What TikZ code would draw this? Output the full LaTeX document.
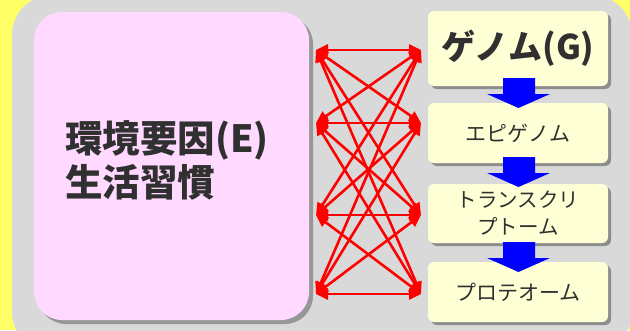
\documentclass[tikz,border=0pt]{standalone}
\usepackage{fontspec}
\newfontfamily\jp{Noto Sans CJK JP}
\usetikzlibrary{arrows.meta,shadows}
\definecolor{bgyellow}{HTML}{FFFF66}
\definecolor{panelgray}{HTML}{D9D9D9}
\definecolor{pinkbox}{HTML}{FFD9FF}
\definecolor{creambox}{HTML}{FFFFD5}
\definecolor{txtgray}{HTML}{303030}
\tikzset{
  creamstep/.style={draw=none, fill=creambox, rounded corners=6pt,
    minimum width=180pt, inner sep=0pt, text=txtgray, align=center,
    drop shadow={shadow xshift=3pt, shadow yshift=-3pt, fill=black, opacity=0.35}},
  redlink/.style={draw=red, line width=2.6pt,
    {Triangle[length=12pt,width=11pt]}-{Triangle[length=12pt,width=11pt]}},
  bluearrow/.style={fill=blue, draw=none}
}
\begin{document}
\begin{tikzpicture}[x=1pt,y=-1pt]
\useasboundingbox (0,0) rectangle (630,330);
\fill[bgyellow] (0,0) rectangle (630,330);
\fill[panelgray, rounded corners=40pt] (12,-5) rectangle (632,352);
% pink box
\node[draw=none, fill=pinkbox, rounded corners=28pt, minimum width=275pt,
  minimum height=308pt, inner sep=0pt,
  drop shadow={shadow xshift=4pt, shadow yshift=-4pt, fill=black, opacity=0.3}]
  (env) at (171.5,166) {};
\node[text=txtgray, align=left, font=\jp\bfseries\fontsize{37.5}{44}\selectfont]
  (envtext) at (167,160) {環境要因(E)\\生活習慣};
% right boxes
\node[creamstep, minimum height=75pt, font=\jp\bfseries\fontsize{34}{40}\selectfont]
  (g) at (518,48.5) {ゲノム(G)};
\node[creamstep, minimum height=60pt, font=\jp\fontsize{21}{27}\selectfont]
  (epi) at (518,133) {エピゲノム};
\node[creamstep, minimum height=59pt, font=\jp\fontsize{20.5}{27}\selectfont]
  (tr) at (518,213.5) {トランスクリ\\プトーム};
\node[creamstep, minimum height=60pt, font=\jp\fontsize{21}{27}\selectfont]
  (pr) at (518,292) {プロテオーム};
% connector ends
\coordinate (l1) at (316,50);
\coordinate (l2) at (316,123);
\coordinate (l3) at (316,215);
\coordinate (l4) at (316,294);
\coordinate (r1) at (421,50);
\coordinate (r2) at (421,123);
\coordinate (r3) at (421,215);
\coordinate (r4) at (421,294);
\foreach \i in {1,...,4}{
  \foreach \j in {1,...,4}{
    \draw[redlink] (l\i) -- (r\j);
  }
}
% blue arrows
\foreach \top/\base/\tip in {78/94/108, 157/173/187, 242/258/272}{
  \fill[bluearrow] (503,\top) -- (535,\top) -- (535,\base) -- (550,\base)
    -- (518.5,\tip) -- (487,\base) -- (503,\base) -- cycle;
}
\end{tikzpicture}
\end{document}
